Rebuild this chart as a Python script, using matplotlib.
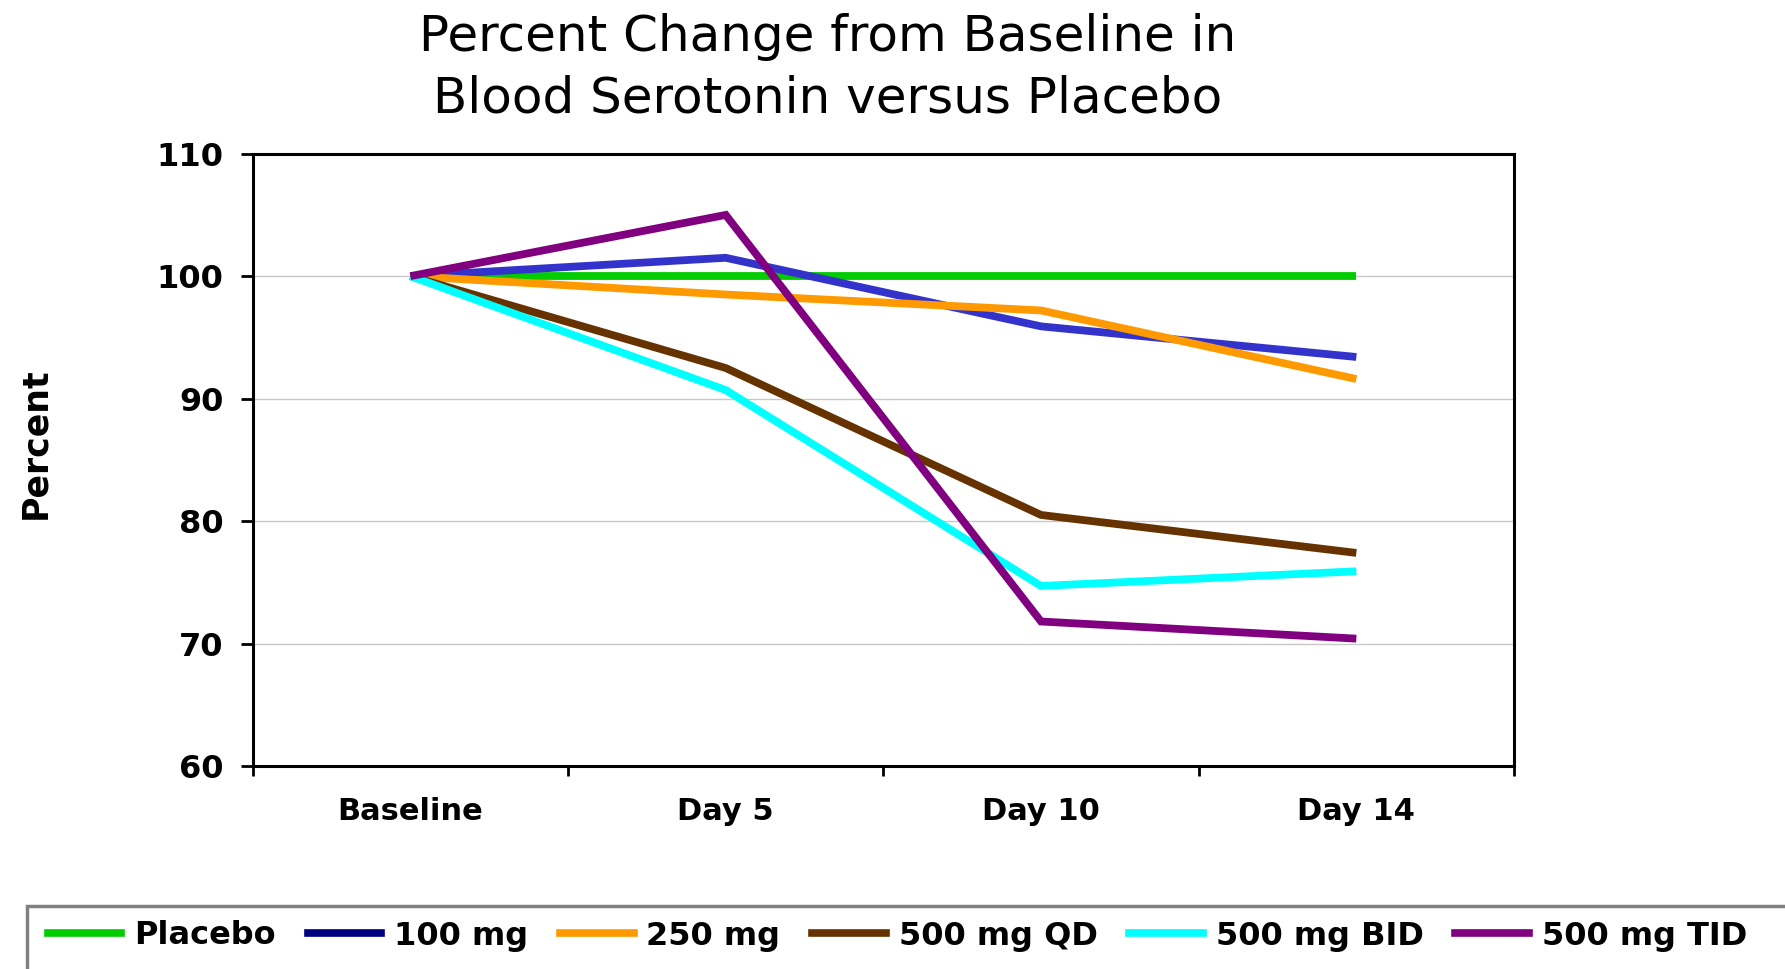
import matplotlib
matplotlib.use("Agg")
import matplotlib.pyplot as plt
from matplotlib.lines import Line2D
from matplotlib.patches import Rectangle

plt.rcParams['font.family'] = ['DejaVu Sans']

# Study visits and mean percent of baseline blood serotonin per dose group
visits = ["Baseline", "Day 5", "Day 10", "Day 14"]
placebo = [100.0, 100.0, 100.0, 100.0]
dose_100mg = [100.0, 101.5, 95.9, 93.4]
dose_250mg = [100.0, 98.5, 97.2, 91.6]
dose_500mg_qd = [100.0, 92.5, 80.5, 77.4]
dose_500mg_bid = [100.0, 90.7, 74.7, 75.9]
dose_500mg_tid = [100.0, 105.0, 71.8, 70.4]

labels = ["Placebo", "100 mg", "250 mg", "500 mg QD", "500 mg BID", "500 mg TID"]
series = [placebo, dose_100mg, dose_250mg, dose_500mg_qd, dose_500mg_bid, dose_500mg_tid]
line_colors = ["#00CC00", "#3333CC", "#FF9900", "#663300", "#00FFFF", "#800080"]
key_colors = ["#00CC00", "#000080", "#FF9900", "#663300", "#00FFFF", "#800080"]
y_ticks = [60, 70, 80, 90, 100, 110]

W, H = 1785, 969
fig = plt.figure(figsize=(W / 100, H / 100), dpi=100)
ax = fig.add_axes([252.7 / W, 1 - 766 / H, (1514 - 252.7) / W, (766 - 153.7) / H])

x = list(range(len(visits)))
for vals, col, lab in zip(series, line_colors, labels):
    ax.plot(x, vals, color=col, lw=5.6, solid_joinstyle="miter", solid_capstyle="butt", label=lab)

ax.set_xlim(-0.5, len(visits) - 0.5)
ax.set_ylim(60, 110)
ax.set_yticks(y_ticks)
ax.set_yticklabels([str(v) for v in y_ticks], fontsize=23, fontweight="bold")
ax.set_xticks(x)
ax.set_xticklabels(visits, fontsize=22, fontweight="bold")
ax.set_xticks([i - 0.5 for i in range(len(visits) + 1)], minor=True)
ax.tick_params(axis="x", which="major", length=0, pad=22)
ax.tick_params(axis="x", which="minor", length=7, width=2, direction="out")
ax.tick_params(axis="y", which="major", length=9, width=2, direction="out", pad=12)

for gy in y_ticks[1:-1]:
    ax.axhline(gy, color="#C8C8C8", lw=1.0, zorder=0)

for s in ax.spines.values():
    s.set_linewidth(2.2)
    s.set_color("black")

ax.set_ylabel("Percent", fontsize=25, fontweight="bold", labelpad=0)
ax.yaxis.set_label_coords(-(252.7 - 52) / (1514 - 252.7), 0.527)

fig.text(828 / W, 1 - 68 / H, "Percent Change from Baseline in\nBlood Serotonin versus Placebo",
         ha="center", va="center", fontsize=36, linespacing=1.35)

# Legend strip along the bottom edge
fig.patches.append(Rectangle((27 / W, -0.05), 1.1, 0.05 + (1 - 906 / H),
                             transform=fig.transFigure, fill=False,
                             edgecolor="#808080", lw=2.5))
handles = [Line2D([], [], color=c, lw=5.5) for c in key_colors]
fig.legend(handles, labels, loc="center left", bbox_to_anchor=(48 / W, 1 - 936 / H),
           ncol=6, frameon=False, prop={"size": 23, "weight": "bold"},
           handlelength=2.3, handletextpad=0.4, columnspacing=1.0, borderpad=0, borderaxespad=0)

fig.savefig("out.png", dpi=100)
